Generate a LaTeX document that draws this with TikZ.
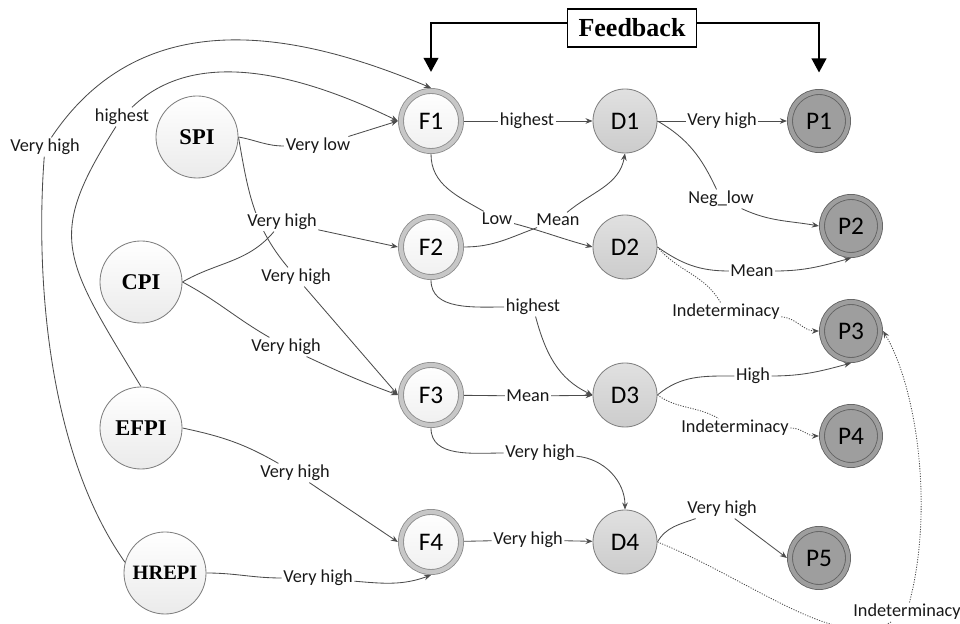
\documentclass[tikz,border=0pt]{standalone}
\usepackage{fontspec}
\setmainfont{Carlito}
\newfontfamily\timesfont{Liberation Serif}
\usetikzlibrary{arrows.meta,backgrounds}

\begin{document}
\begin{tikzpicture}[x=0.025cm,y=0.025cm,
    inp/.style={circle,draw=black!50,line width=0.6pt,top color=white,bottom color=black!8,minimum size=2.05cm,inner sep=0pt,font=\timesfont\bfseries\fontsize{16}{16}\selectfont},
    fac/.style={circle,draw=black!45,line width=0.6pt,double=black!22,double distance=3pt,top color=white,bottom color=black!6,minimum size=1.5cm,inner sep=0pt,outer sep=2.2pt,font=\fontsize{18}{18}\selectfont},
    dec/.style={circle,draw=black!50,line width=0.6pt,top color=black!12,bottom color=black!20,minimum size=1.6cm,inner sep=0pt,font=\fontsize{18}{18}\selectfont},
    pol/.style={circle,draw=black!62,line width=0.6pt,double=black!38,double distance=3pt,fill=black!38,minimum size=1.45cm,inner sep=0pt,outer sep=2.2pt,font=\fontsize{18}{18}\selectfont},
    lbl/.style={fill=white,inner sep=1pt,text=black!90,font=\fontsize{13}{13}\selectfont},
    conn/.style={draw=black!70,line width=0.6pt},
    arr/.style={conn,-{Stealth[length=5pt,width=4pt]}},
    indet/.style={arr,dash pattern=on 0.8pt off 1pt},
    fbline/.style={line width=1.2pt,-{Triangle[length=10pt,width=10.5pt]}}]
    \useasboundingbox (0,0) rectangle (960,624);
    % Indicators
    \node[inp] (SPI) at (197,487) {SPI};
    \node[inp] (CPI) at (141,342) {CPI};
    \node[inp] (EFPI) at (141,196) {EFPI};
    \node[inp,font=\timesfont\bfseries\fontsize{14.5}{14.5}\selectfont] (HREPI) at (165,51) {HREPI};
    % Factors and decisions
    \foreach \i/\y in {1/503,2/377,3/229,4/82} {
        \node[fac] (F\i) at (431,\y) {F\i};
        \node[dec] (D\i) at (625,\y) {D\i};
    }
    % Outcomes
    \node[pol] (P1) at (819,503) {P1};
    \node[pol] (P2) at (851,398) {P2};
    \node[pol] (P3) at (851,293) {P3};
    \node[pol] (P4) at (851,188) {P4};
    \node[pol] (P5) at (819,66) {P5};
    % Feedback
    \node[draw,line width=1.2pt,minimum width=3.22cm,minimum height=0.95cm,inner sep=0pt,font=\timesfont\bfseries\fontsize{18.5}{18.5}\selectfont] (fb) at (632,596) {Feedback};
    \coordinate (fbF) at ([yshift=0.4cm]F1.north);
    \coordinate (fbP) at ([yshift=0.41cm]P1.north);
    \draw[fbline] ([yshift=0.125cm]fb.west) -| (fbF);
    \draw[fbline] ([yshift=0.125cm]fb.east) -| (fbP);
    % Labels
    \node[lbl] (VL) at (318,478) {Very low};
    \node[lbl] (VHa) at (282,402) {Very high};
    \node[lbl] (VHb) at (296,347) {Very high};
    \node[lbl] (VHc) at (286,277) {Very high};
    \node[lbl] (hiE) at (122,507) {highest};
    \node[lbl] (VHH) at (45,477) {Very high};
    \node[lbl] (VHE) at (295,151) {Very high};
    \node[lbl] (VHH4) at (318,46) {Very high};
    \node[lbl] (hi1) at (527,503) {highest};
    \node[lbl] (Low) at (497,405) {Low};
    \node[lbl] (Mean2) at (558,404) {Mean};
    \node[lbl] (hi2) at (533,317) {highest};
    \node[lbl] (Mean3) at (528,228) {Mean};
    \node[lbl] (VH3) at (540,171) {Very high};
    \node[lbl] (VH4) at (528,84) {Very high};
    \node[lbl] (VHD1) at (722,503) {Very high};
    \node[lbl] (Neg) at (721,425) {Neg\_low};
    \node[lbl] (MeanD2) at (752,353) {Mean};
    \node[lbl] (IndD2) at (726,312) {Indeterminacy};
    \node[lbl] (High) at (753,248) {High};
    \node[lbl] (IndD3) at (735,196) {Indeterminacy};
    \node[lbl] (VHD4) at (722,115) {Very high};
    \node[lbl] (IndD4) at (907,12) {Indeterminacy};
    % Connectors
    \begin{pgfonlayer}{background}
    \clip (0,0) rectangle (960,624);
    \draw[arr] (SPI.east) to[out=-10,in=180] (VL) -- (F1.west);
    \draw[arr] (CPI.east) to[out=30,in=-130] (VHa) -- (F2.west);
    \draw[arr] (SPI.east) to[out=-80,in=130] (VHb) -- (F3.west);
    \draw[arr] (CPI.east) to[out=-28,in=150] (VHc) to[out=-25,in=160] (F3.west);
    \draw[arr] (EFPI.north) .. controls (62,368) and (46,387) .. (hiE) .. controls (186,569) and (276,562) .. (F1.west);
    \draw[arr] (HREPI.165) .. controls (44,177) and (36,360) .. (VHH) .. controls (146,628) and (307,588) .. (F1.north);
    \draw[arr] (EFPI.east) to[out=-12,in=150] (VHE) -- (F4.west);
    \draw[arr] (HREPI.east) to[out=0,in=180] (VHH4) to[out=-5,in=-160] (F4.south);
    \draw[arr] (F1) -- (hi1) -- (D1);
    \draw[arr] (F1.south) to[out=-90,in=150] (Low) to[out=-15,in=165] (D2.west);
    \draw[arr] (F2.east) to[out=0,in=-160] (Mean2) to[out=40,in=-100] (D1.south);
    \draw[arr] (F2.south) to[out=-90,in=180] (hi2) to[out=-75,in=155] (D3.west);
    \draw[arr] (F3) -- (Mean3) -- (D3);
    \draw[arr] (F3.south) to[out=-90,in=180] (VH3) to[out=-5,in=90] (D4.north);
    \draw[arr] (F4) -- (VH4) -- (D4);
    \draw[arr] (D1) -- (VHD1) -- (P1);
    \draw[arr] (D1.east) to[out=-30,in=115] (Neg) to[out=-25,in=170] (P2.west);
    \draw[arr] (D2.east) to[out=-35,in=180] (MeanD2) to[out=0,in=195] (P2.south);
    \draw[indet] (D2.east) to[out=-50,in=120] (IndD2) to[out=-5,in=180] (P3.west);
    \draw[arr] (D3.east) to[out=40,in=180] (High) to[out=0,in=195] (P3.south);
    \draw[indet] (D3.east) to[out=-35,in=150] (IndD3) to[out=0,in=180] (P4.west);
    \draw[arr] (D4.east) to[out=60,in=200] (VHD4) -- (P5.west);
    \draw[indet] (D4.east) .. controls (750,45) and (840,-30) .. (IndD4) .. controls (935,120) and (915,240) .. (P3.east);
    \end{pgfonlayer}
\end{tikzpicture}
\end{document}
